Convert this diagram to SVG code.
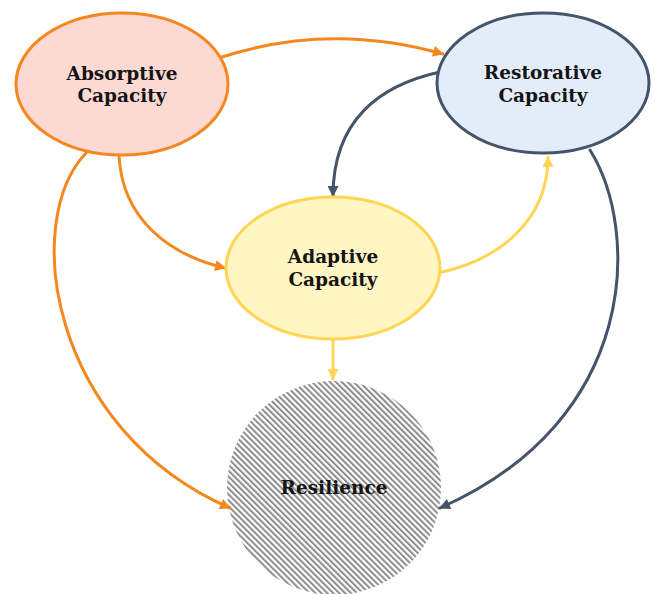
<svg xmlns="http://www.w3.org/2000/svg" width="655" height="594" viewBox="0 0 655 594">
  <style>
    .label { font-family: "DejaVu Serif", "Liberation Serif", serif; font-weight: bold; font-size: 18.5px; fill: #141414; text-anchor: middle; }
    .edge { fill: none; stroke-width: 3; stroke-linecap: round; }
    .orange { stroke: #f5871f; }
    .navy { stroke: #44546a; }
    .yellow { stroke: #ffd553; }
  </style>
  <defs>
    <marker id="arrow-orange" viewBox="0 0 10 10" refX="9" refY="5" markerWidth="12" markerHeight="11" markerUnits="userSpaceOnUse" orient="auto">
      <path d="M0,0 L10,5 L0,10 z" fill="#f5871f"/>
    </marker>
    <marker id="arrow-navy" viewBox="0 0 10 10" refX="9" refY="5" markerWidth="12" markerHeight="11" markerUnits="userSpaceOnUse" orient="auto">
      <path d="M0,0 L10,5 L0,10 z" fill="#44546a"/>
    </marker>
    <marker id="arrow-yellow" viewBox="0 0 10 10" refX="9" refY="5" markerWidth="12" markerHeight="11" markerUnits="userSpaceOnUse" orient="auto">
      <path d="M0,0 L10,5 L0,10 z" fill="#ffd553"/>
    </marker>
    <pattern id="hatch" width="4.2" height="4.2" patternUnits="userSpaceOnUse" patternTransform="rotate(-45)">
      <rect width="4.2" height="4.2" fill="#ffffff"/>
      <line x1="1" y1="0" x2="1" y2="4.2" stroke="#8c8c8c" stroke-width="2"/>
    </pattern>
  </defs>

  <rect width="655" height="594" fill="#ffffff"/>

  <g id="resilience">
    <circle cx="334" cy="488" r="107" fill="url(#hatch)"/>
    <text class="label" x="334" y="494">Resilience</text>
  </g>

  <g id="connectors">
    <path class="edge orange" d="M222,57 Q330,22 443,54" marker-end="url(#arrow-orange)"/>
    <path class="edge orange" d="M119,155 C122,220 170,255 225,268" marker-end="url(#arrow-orange)"/>
    <path class="edge orange" d="M87,152 C20,220 50,430 230,508" marker-end="url(#arrow-orange)"/>
    <path class="edge navy" d="M440,72 C380,85 333,120 333,196" marker-end="url(#arrow-navy)"/>
    <path class="edge navy" d="M590,150 C640,230 640,420 440,508" marker-end="url(#arrow-navy)"/>
    <path class="edge yellow" d="M438,273 C500,260 548,220 548,157" marker-end="url(#arrow-yellow)"/>
    <path class="edge yellow" d="M333,340 L333,379" marker-end="url(#arrow-yellow)"/>
  </g>

  <g id="absorptive">
    <ellipse cx="122" cy="84" rx="106" ry="71" fill="#fdd9d4" stroke="#f5871f" stroke-width="3"/>
    <text class="label" x="122" y="80">Absorptive</text>
    <text class="label" x="122" y="102">Capacity</text>
  </g>

  <g id="restorative">
    <ellipse cx="543" cy="83" rx="106" ry="70" fill="#e3edfa" stroke="#44546a" stroke-width="3"/>
    <text class="label" x="543" y="79">Restorative</text>
    <text class="label" x="543" y="102">Capacity</text>
  </g>

  <g id="adaptive">
    <ellipse cx="333" cy="268" rx="107" ry="71" fill="#fff6c4" stroke="#ffd553" stroke-width="3"/>
    <text class="label" x="333" y="263">Adaptive</text>
    <text class="label" x="333" y="286">Capacity</text>
  </g>
</svg>
